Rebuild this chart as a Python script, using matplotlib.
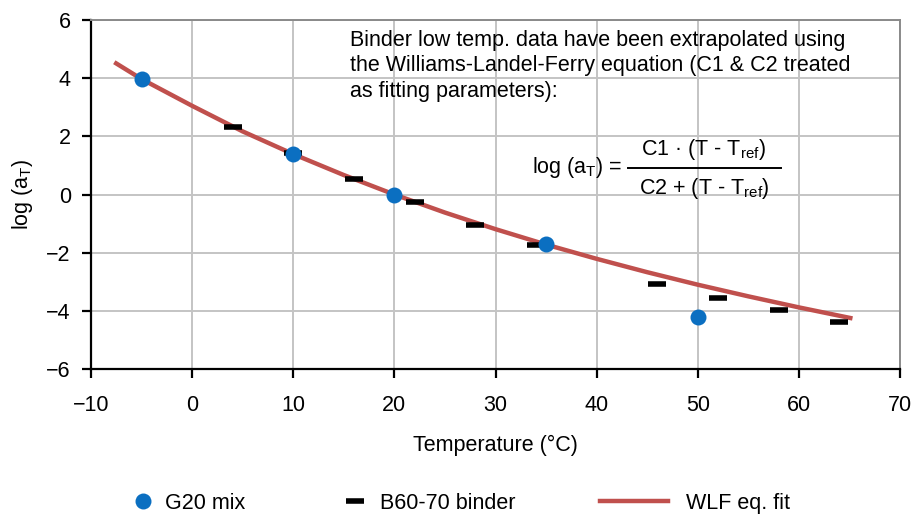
import matplotlib
matplotlib.use('Agg')
import matplotlib.pyplot as plt
from matplotlib.lines import Line2D

plt.rcParams['font.family'] = ['Liberation Sans', 'DejaVu Sans']
plt.rcParams['mathtext.fontset'] = 'custom'
plt.rcParams['mathtext.rm'] = 'Liberation Sans'
plt.rcParams['mathtext.it'] = 'Liberation Sans'

FS = 15.5

# G20 mix (measured)
g20_temp = [-5, 10, 20, 35, 50]
g20_log_at = [3.97, 1.38, 0.0, -1.71, -4.21]

# B60-70 binder (measured)
binder_temp = [4, 10, 16, 22, 28, 34, 46, 52, 58, 64]
binder_log_at = [2.31, 1.43, 0.54, -0.27, -1.06, -1.74, -3.07, -3.54, -3.96, -4.38]

# WLF eq. fit
wlf_temp = [-7.7, -5, 0, 5, 10, 15, 20, 25, 30, 35, 40, 45, 50, 55, 60, 65.3]
wlf_log_at = [4.55, 3.97, 3.05, 2.17, 1.39, 0.67, 0.0, -0.62, -1.19, -1.72,
              -2.21, -2.67, -3.10, -3.50, -3.88, -4.26]

blue = '#0b6fc1'
red = '#c0504d'

fig = plt.figure(figsize=(9.14, 5.14), dpi=100)
ax = fig.add_axes([0.0996, 0.282, 0.8851, 0.679])

ax.plot(wlf_temp, wlf_log_at, color=red, lw=3.2, zorder=3, solid_capstyle='butt')
ax.plot(binder_temp, binder_log_at, ls='none', marker='_', ms=13, mew=4,
        color='black', zorder=4)
ax.plot(g20_temp, g20_log_at, ls='none', marker='o', ms=11.5, color=blue,
        mec='none', zorder=5)

ax.set_xlim(-10, 70)
ax.set_ylim(-6, 6)
ax.set_xticks(range(-10, 71, 10))
ax.set_yticks(range(-6, 7, 2))
ax.grid(True, color='#c4c4c4', lw=1.4)
ax.set_axisbelow(True)

for s in ['left', 'bottom']:
    ax.spines[s].set_color('black')
    ax.spines[s].set_linewidth(1.6)
for s in ['top', 'right']:
    ax.spines[s].set_color('#8a8a8a')
    ax.spines[s].set_linewidth(1.4)

ax.tick_params(axis='both', direction='out', length=6.5, width=1.6, labelsize=FS)
ax.tick_params(axis='x', pad=12)
ax.tick_params(axis='y', pad=8)

ax.set_xlabel('Temperature (°C)', fontsize=FS, labelpad=14)
ax.set_ylabel('log (a$_\\mathrm{T}$)', fontsize=FS, labelpad=8)

ax.text(15.6, 4.42, 'Binder low temp. data have been extrapolated using\n'
        'the Williams-Landel-Ferry equation (C1 & C2 treated\n'
        'as fitting parameters):', fontsize=FS, va='center', ha='left',
        linespacing=1.27)

# WLF equation
ax.text(42.5, 0.92, 'log (a$_\\mathrm{T}$) =', fontsize=FS, ha='right', va='center')
ax.text(50.6, 1.55, 'C1 · (T - T$_\\mathrm{ref}$)', fontsize=FS, ha='center', va='center')
ax.text(50.6, 0.22, 'C2 + (T - T$_\\mathrm{ref}$)', fontsize=FS, ha='center', va='center')
ax.add_line(Line2D([43.1, 58.2], [0.92, 0.92], color='black', lw=1.4))

# legend, one entry per block
h1 = Line2D([], [], ls='none', marker='o', ms=11.5, color=blue, mec='none')
h2 = Line2D([], [], ls='none', marker='_', ms=13, mew=4, color='black')
h3 = Line2D([], [], color=red, lw=3.2)
common = dict(frameon=False, fontsize=FS, loc='center left', borderpad=0,
              borderaxespad=0)
fig.legend([h1], ['G20 mix'], bbox_to_anchor=(0.1466, 0.0214),
           handlelength=0.84, handletextpad=0.6, **common)
fig.legend([h2], ['B60-70 binder'], bbox_to_anchor=(0.3786, 0.0214),
           handlelength=0.84, handletextpad=0.74, **common)
fig.legend([h3], ['WLF eq. fit'], bbox_to_anchor=(0.6565, 0.0214),
           handlelength=3.16, handletextpad=0.84, **common)

fig.savefig('out.png', dpi=100)
